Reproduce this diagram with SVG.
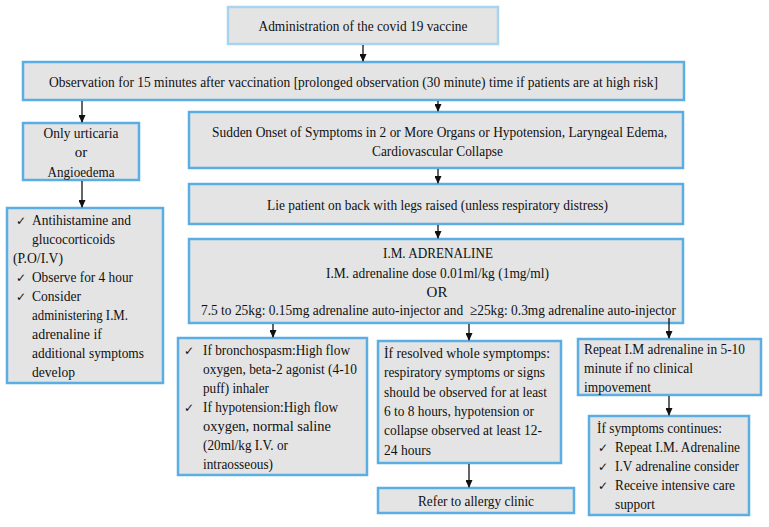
<svg xmlns="http://www.w3.org/2000/svg" width="769" height="527" viewBox="0 0 769 527">
<style>
.box{fill:#e4e4e4;stroke:#5aaee3;stroke-width:2.5}
.box1{fill:#e4e4e4;stroke:#a9d4f0;stroke-width:2.5}
text{font-family:"Liberation Serif","Times New Roman",serif;font-size:15px;fill:#111}
.c{text-anchor:middle}
.ck{font-family:"DejaVu Sans",sans-serif;font-size:12px}
.con{stroke:#111;stroke-width:1.3;fill:none;marker-end:url(#ah)}
</style>
<defs>
<marker id="ah" markerUnits="userSpaceOnUse" markerWidth="8" markerHeight="7" refX="7" refY="3.5" orient="auto">
<path d="M0,0 L8,3.5 L0,7 z" fill="#111"/>
</marker>
</defs>
<rect width="769" height="527" fill="#fff"/>
<g id="n1"><rect class="box1" x="228" y="7" width="270" height="37"/>
<text class="c" x="363" y="31" textLength="209" lengthAdjust="spacingAndGlyphs">Administration of the covid 19 vaccine</text></g>
<g id="n2"><rect class="box" x="23" y="62" width="661" height="38"/>
<text class="c" x="353.5" y="87" textLength="609" lengthAdjust="spacingAndGlyphs">Observation for 15 minutes after vaccination [prolonged observation (30 minute) time if patients are at high risk]</text></g>
<g id="n3"><rect class="box" x="23" y="123" width="116" height="57"/>
<text class="c" x="81" y="138" textLength="75" lengthAdjust="spacingAndGlyphs">Only urticaria</text>
<text class="c" x="81" y="157">or</text>
<text class="c" x="81" y="177" textLength="67" lengthAdjust="spacingAndGlyphs">Angioedema</text></g>
<g id="n4"><rect class="box" x="7" y="208" width="156" height="175"/>
<text class="ck" x="16" y="225">✓</text><text x="32" y="225" textLength="99" lengthAdjust="spacingAndGlyphs">Antihistamine and</text>
<text x="32" y="244" textLength="83" lengthAdjust="spacingAndGlyphs">glucocorticoids</text>
<text x="13" y="263" textLength="50" lengthAdjust="spacingAndGlyphs">(P.O/I.V)</text>
<text class="ck" x="16" y="282">✓</text><text x="32" y="282" textLength="101" lengthAdjust="spacingAndGlyphs">Observe for 4 hour</text>
<text class="ck" x="16" y="301">✓</text><text x="32" y="301" textLength="49" lengthAdjust="spacingAndGlyphs">Consider</text>
<text x="32" y="320" textLength="96" lengthAdjust="spacingAndGlyphs">administering I.M.</text>
<text x="32" y="339" textLength="70" lengthAdjust="spacingAndGlyphs">adrenaline if</text>
<text x="32" y="358" textLength="112" lengthAdjust="spacingAndGlyphs">additional symptoms</text>
<text x="32" y="377" textLength="43" lengthAdjust="spacingAndGlyphs">develop</text></g>
<g id="n5"><rect class="box" x="189" y="112" width="494" height="56"/>
<text class="c" x="439.5" y="137" textLength="455" lengthAdjust="spacingAndGlyphs">Sudden Onset of Symptoms in 2 or More Organs or Hypotension, Laryngeal Edema,</text>
<text class="c" x="437.5" y="156" textLength="131" lengthAdjust="spacingAndGlyphs">Cardiovascular Collapse</text></g>
<g id="n6"><rect class="box" x="189" y="184" width="494" height="40"/>
<text class="c" x="437.5" y="210" textLength="341" lengthAdjust="spacingAndGlyphs">Lie patient on back with legs raised (unless respiratory distress)</text></g>
<g id="n7"><rect class="box" x="189" y="239" width="494" height="84"/>
<text class="c" x="438" y="258" textLength="110" lengthAdjust="spacingAndGlyphs">I.M. ADRENALINE</text>
<text class="c" x="437.5" y="278" textLength="223" lengthAdjust="spacingAndGlyphs">I.M. adrenaline dose 0.01ml/kg (1mg/ml)</text>
<text class="c" x="437" y="297">OR</text>
<text class="c" x="438.5" y="315" textLength="475" lengthAdjust="spacingAndGlyphs">7.5 to 25kg: 0.15mg adrenaline auto-injector and &#160;≥25kg: 0.3mg adrenaline auto-injector</text></g>
<g id="n8"><rect class="box" x="178" y="338" width="189" height="137"/>
<text class="ck" x="184" y="355">✓</text><text x="203" y="355" textLength="147" lengthAdjust="spacingAndGlyphs">If bronchospasm:High flow</text>
<text x="203" y="374" textLength="154" lengthAdjust="spacingAndGlyphs">oxygen, beta-2 agonist (4-10</text>
<text x="203" y="393" textLength="66" lengthAdjust="spacingAndGlyphs">puff) inhaler</text>
<text class="ck" x="184" y="412">✓</text><text x="203" y="412" textLength="135" lengthAdjust="spacingAndGlyphs">If hypotension:High flow</text>
<text x="203" y="431" textLength="128" lengthAdjust="spacingAndGlyphs">oxygen, normal saline</text>
<text x="203" y="450" textLength="85" lengthAdjust="spacingAndGlyphs">(20ml/kg I.V. or</text>
<text x="203" y="469" textLength="70" lengthAdjust="spacingAndGlyphs">intraosseous)</text></g>
<g id="n9"><rect class="box" x="378" y="341" width="183" height="122"/>
<text x="384" y="358" textLength="166" lengthAdjust="spacingAndGlyphs">İf resolved whole symptomps:</text>
<text x="384" y="377" textLength="161" lengthAdjust="spacingAndGlyphs">respiratory symptoms or signs</text>
<text x="384" y="397" textLength="163" lengthAdjust="spacingAndGlyphs">should be observed for at least</text>
<text x="384" y="416" textLength="150" lengthAdjust="spacingAndGlyphs">6 to 8 hours, hypotension or</text>
<text x="384" y="435" textLength="158" lengthAdjust="spacingAndGlyphs">collapse observed at least 12-</text>
<text x="384" y="455" textLength="47" lengthAdjust="spacingAndGlyphs">24 hours</text></g>
<g id="n10"><rect class="box" x="378" y="488" width="196" height="25"/>
<text class="c" x="476" y="506" textLength="116" lengthAdjust="spacingAndGlyphs">Refer to allergy clinic</text></g>
<g id="n11"><rect class="box" x="578" y="339" width="183" height="56"/>
<text x="584" y="354" textLength="161" lengthAdjust="spacingAndGlyphs">Repeat I.M adrenaline in 5-10</text>
<text x="584" y="373" textLength="109" lengthAdjust="spacingAndGlyphs">minute if no clinical</text>
<text x="584" y="392" textLength="67" lengthAdjust="spacingAndGlyphs">impovement</text></g>
<g id="n12"><rect class="box" x="589" y="416" width="160" height="99"/>
<text x="597" y="433" textLength="125" lengthAdjust="spacingAndGlyphs">İf symptoms continues:</text>
<text class="ck" x="598" y="452">✓</text><text x="615" y="452" textLength="125" lengthAdjust="spacingAndGlyphs">Repeat I.M. Adrenaline</text>
<text class="ck" x="598" y="471">✓</text><text x="615" y="471" textLength="124" lengthAdjust="spacingAndGlyphs">I.V adrenaline consider</text>
<text class="ck" x="598" y="490">✓</text><text x="615" y="490" textLength="120" lengthAdjust="spacingAndGlyphs">Receive intensive care</text>
<text x="615" y="509" textLength="40" lengthAdjust="spacingAndGlyphs">support</text></g>
<g id="connectors">
<line class="con" x1="363" y1="45" x2="363" y2="61"/>
<line class="con" x1="82" y1="101" x2="82" y2="122"/>
<line class="con" x1="438" y1="101" x2="438" y2="111"/>
<line class="con" x1="82" y1="181" x2="82" y2="207"/>
<line class="con" x1="438" y1="169" x2="438" y2="183"/>
<line class="con" x1="438" y1="225" x2="438" y2="238"/>
<line class="con" x1="273" y1="324" x2="273" y2="337"/>
<line class="con" x1="469" y1="324" x2="469" y2="340"/>
<line class="con" x1="669" y1="318" x2="669" y2="338"/>
<line class="con" x1="469" y1="464" x2="469" y2="487"/>
<line class="con" x1="669" y1="396" x2="669" y2="415"/>
</g>
</svg>
